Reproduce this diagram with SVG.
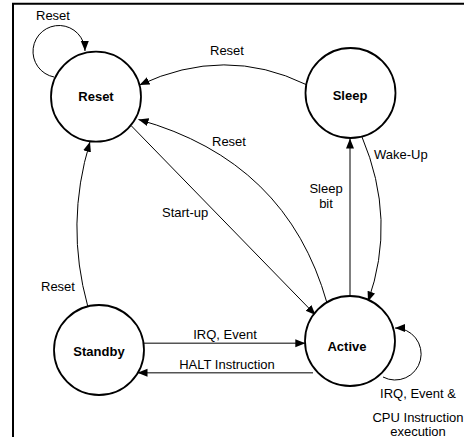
<svg xmlns="http://www.w3.org/2000/svg" width="464" height="437" viewBox="0 0 464 437">
<style>
.frame{stroke:#000;stroke-width:2;fill:none}
.node circle{fill:#fff;stroke:#000;stroke-width:1.8}
.node text{font-family:"Liberation Sans",Arial,sans-serif;font-size:13px;font-weight:bold;text-anchor:middle;fill:#000}
.edge{fill:none;stroke:#000;stroke-width:1}
.gray{stroke:#555;stroke-width:1.6}
.lbl{font-family:"Liberation Sans",Arial,sans-serif;font-size:13px;fill:#000}
.mid{text-anchor:middle}
</style>
<defs>
<marker id="arr" markerUnits="userSpaceOnUse" markerWidth="11" markerHeight="9" refX="10" refY="4" orient="auto">
<path d="M0,0 L10,4 L0,8 z" fill="#000"/>
</marker>
</defs>
<rect width="464" height="437" fill="#fff"/>
<path class="frame" d="M13,437 V3.7 H464"/>
<g id="connectors">
<path class="edge" d="M54,77 A26,26 0 1 1 85,51" marker-end="url(#arr)"/>
<path class="edge" d="M306,84.5 Q225,45 139.5,85" marker-end="url(#arr)"/>
<path class="edge" d="M327,303 Q287,161 138.5,119.5" marker-end="url(#arr)"/>
<path class="edge" d="M131.5,126 L315.5,315" marker-end="url(#arr)"/>
<path class="edge" d="M87.7,306 Q65,224 90,141.8" marker-end="url(#arr)"/>
<path class="edge" d="M350,295 V138.5" marker-end="url(#arr)"/>
<path class="edge" d="M362,137 Q397,220 368,301.5" marker-end="url(#arr)"/>
<path class="edge gray" d="M143.5,343.3 H305.3" marker-end="url(#arr)"/>
<path class="edge gray" d="M313,372.7 H137.5" marker-end="url(#arr)"/>
<path class="edge" d="M383,377 A26,26 0 1 0 395,328" marker-end="url(#arr)"/>
<text class="lbl" x="36" y="20">Reset</text>
<text class="lbl" x="210" y="54.5">Reset</text>
<text class="lbl" x="212" y="146">Reset</text>
<text class="lbl" x="162" y="217">Start-up</text>
<text class="lbl" x="41" y="291">Reset</text>
<text class="lbl mid" x="326" y="193">Sleep</text>
<text class="lbl mid" x="326" y="207.5">bit</text>
<text class="lbl mid" x="225" y="339">IRQ, Event</text>
<text class="lbl mid" x="227" y="369">HALT Instruction</text>
<text class="lbl" x="374" y="159">Wake-Up</text>
<text class="lbl mid" x="418" y="398">IRQ, Event &amp;</text>
<text class="lbl mid" x="418" y="422">CPU Instruction</text>
<text class="lbl mid" x="418" y="435.5">execution</text>
</g>
<g id="reset" class="node"><circle cx="96" cy="96.7" r="45"/><text x="96" y="101">Reset</text></g>
<g id="sleep" class="node"><circle cx="350.5" cy="93" r="45"/><text x="350" y="100">Sleep</text></g>
<g id="standby" class="node"><circle cx="99" cy="350" r="45"/><text x="99" y="356">Standby</text></g>
<g id="active" class="node"><circle cx="350" cy="341" r="45"/><text x="347" y="351">Active</text></g>
</svg>
